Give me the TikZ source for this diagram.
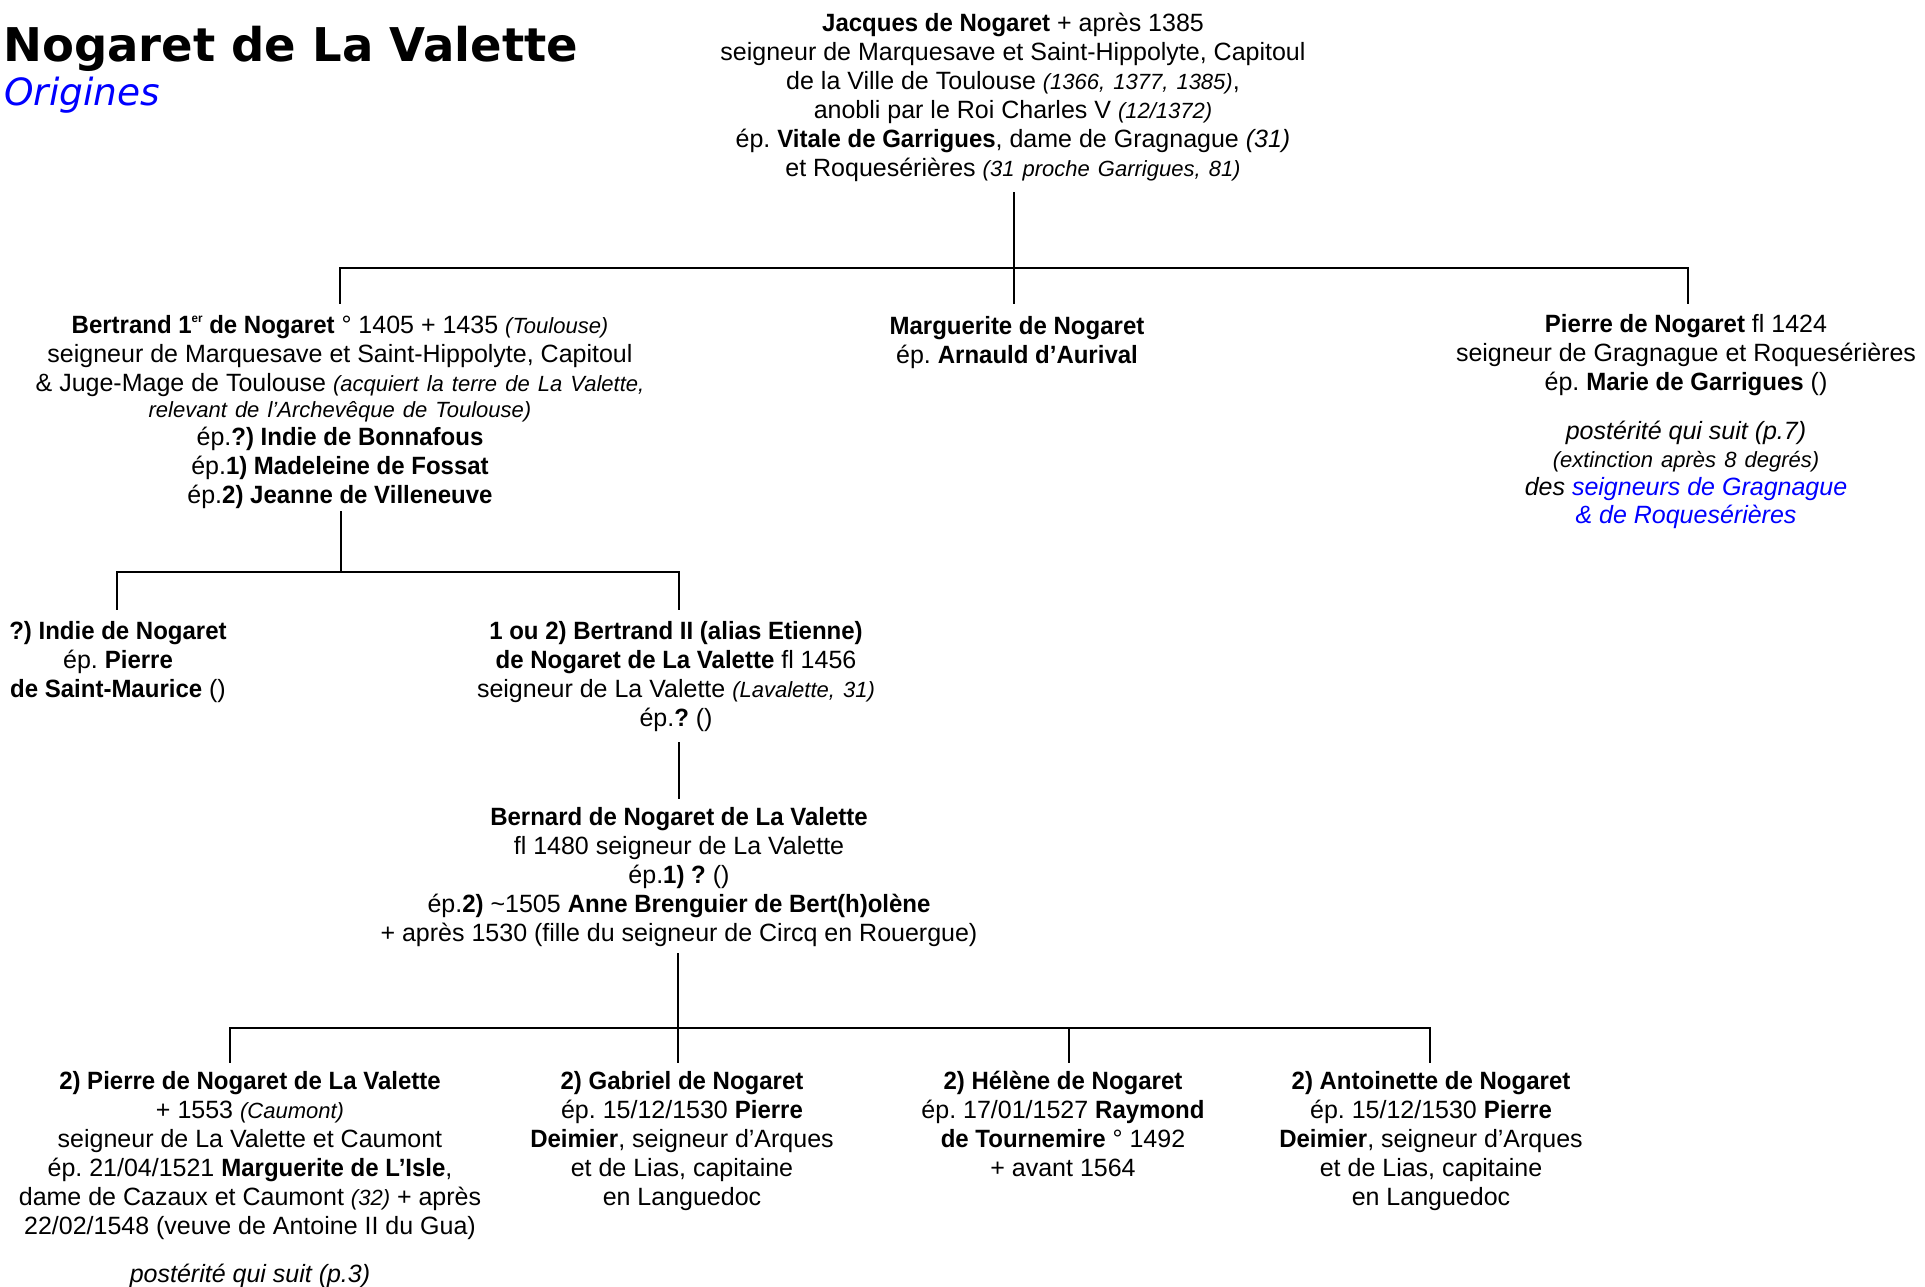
\documentclass[tikz,border=0pt]{standalone}
\usepackage{fontspec}
\setmainfont{Liberation Sans}[BoldFeatures={FakeStretch=0.96}]
\newfontfamily\titlefont{DejaVu Sans}
\newcommand\smit[1]{{\fontsize{22}{26}\selectfont\itshape\spaceskip=0.278em plus 0.1em\relax\advance\spaceskip by 2pt\relax #1}}
\newcommand\sups[1]{\raisebox{0.45em}[0pt][0pt]{\fontsize{12}{12}\selectfont #1}}
\frenchspacing
\begin{document}
\begin{tikzpicture}[x=1pt,y=-1pt]
\tikzset{
  person/.style={align=center, inner sep=0pt, outer sep=0pt, anchor=north,
    font=\fontsize{25}{29}\selectfont, execute at begin node=\strut},
  link/.style={line width=2.4pt, line cap=rect},
}
\useasboundingbox (0,0) rectangle (1925,1286);
\fill[white] (0,0) rectangle (1925,1286);

% title
\node[anchor=base west, inner sep=0pt, font={\fontsize{46.5}{56}\titlefont\bfseries}] (title) at (3,61.5) {Nogaret de La Valette};
\node[anchor=base west, inner sep=0pt, text=blue, font={\fontsize{37.5}{44}\titlefont\itshape}] (sub) at (4,105.6) {Origines};

% generation 1
\node[person] (jacques) at (1013,13.5) {\textbf{Jacques de Nogaret} + après 1385\\
seigneur de Marquesave et Saint-Hippolyte, Capitoul\\
de la Ville de Toulouse \smit{(1366, 1377, 1385)},\\
anobli par le Roi Charles V \smit{(12/1372)}\\
ép. \textbf{Vitale de Garrigues}, dame de Gragnague \textit{(31)}\\
et Roquesérières \smit{(31 proche Garrigues, 81)}};

% generation 2
\node[person] (bertrand) at (340,315.5) {\textbf{Bertrand 1\sups{er} de Nogaret} ° 1405 + 1435 \smit{(Toulouse)}\\
seigneur de Marquesave et Saint-Hippolyte, Capitoul\\
\& Juge-Mage de Toulouse \smit{(acquiert la terre de La Valette,}\\[-3pt]
\smit{relevant de l’Archevêque de Toulouse)}\\[-1pt]
ép.\textbf{?) Indie de Bonnafous}\\
ép.\textbf{1) Madeleine de Fossat}\\
ép.\textbf{2) Jeanne de Villeneuve}};

\node[person] (marguerite) at (1017,316.5) {\textbf{Marguerite de Nogaret}\\
ép. \textbf{Arnauld d’Aurival}};

\node[person] (pierre) at (1686,314.5) {\textbf{Pierre de Nogaret} fl 1424\\
seigneur de Gragnague et Roquesérières\\
ép. \textbf{Marie de Garrigues} ()\\[20pt]
\textit{postérité qui suit (p.7)}\\[-1pt]
\smit{(extinction après 8 degrés)}\\[-1pt]
\textit{des \textcolor{blue}{seigneurs de Gragnague}}\\[-1pt]
\textit{\textcolor{blue}{\& de Roquesérières}}};

% generation 3
\node[person] (indie) at (118,621.5) {\textbf{?) Indie de Nogaret}\\
ép. \textbf{Pierre}\\
\textbf{de Saint-Maurice} ()};

\node[person] (bertrandII) at (676,621.5) {\textbf{1 ou 2) Bertrand II (alias Etienne)}\\
\textbf{de Nogaret de La Valette} fl 1456\\
seigneur de La Valette \smit{(Lavalette, 31)}\\
ép.\textbf{?} ()};

% generation 4
\node[person] (bernard) at (679,807.5) {\textbf{Bernard de Nogaret de La Valette}\\
fl 1480 seigneur de La Valette\\
ép.\textbf{1) ?} ()\\
ép.\textbf{2)} \textasciitilde 1505 \textbf{Anne Brenguier de Bert(h)olène}\\
+ après 1530 (fille du seigneur de Circq en Rouergue)};

% generation 5
\node[person] (pierreLV) at (250,1071.5) {\textbf{2) Pierre de Nogaret de La Valette}\\
+ 1553 \smit{(Caumont)}\\
seigneur de La Valette et Caumont\\
ép. 21/04/1521 \textbf{Marguerite de L’Isle},\\
dame de Cazaux et Caumont \smit{(32)} + après\\
22/02/1548 (veuve de Antoine II du Gua)\\[19pt]
\textit{postérité qui suit (p.3)}};

\node[person] (gabriel) at (682,1071.5) {\textbf{2) Gabriel de Nogaret}\\
ép. 15/12/1530 \textbf{Pierre}\\
\textbf{Deimier}, seigneur d’Arques\\
et de Lias, capitaine\\
en Languedoc};

\node[person] (helene) at (1063,1071.5) {\textbf{2) Hélène de Nogaret}\\
ép. 17/01/1527 \textbf{Raymond}\\
\textbf{de Tournemire} ° 1492\\
+ avant 1564};

\node[person] (antoinette) at (1431,1071.5) {\textbf{2) Antoinette de Nogaret}\\
ép. 15/12/1530 \textbf{Pierre}\\
\textbf{Deimier}, seigneur d’Arques\\
et de Lias, capitaine\\
en Languedoc};

% connector points
\coordinate (jOut) at (1014,193);
\coordinate (jBar) at (1014,268);
\coordinate (jIn) at (1014,303);
\coordinate (bBarL) at (340,268);
\coordinate (bIn) at (340,303);
\coordinate (pBarR) at (1688,268);
\coordinate (pIn) at (1688,303);

\coordinate (bOut) at (341,512);
\coordinate (bBar) at (341,572);
\coordinate (iBar) at (117,572);
\coordinate (iIn) at (117,609);
\coordinate (b2Bar) at (679,572);
\coordinate (b2In) at (679,609);

\coordinate (b2Out) at (679,743);
\coordinate (bnIn) at (679,798);

\coordinate (bnOut) at (678,954);
\coordinate (bnBar) at (678,1028);
\coordinate (gIn) at (678,1062);
\coordinate (plBar) at (230,1028);
\coordinate (plIn) at (230,1062);
\coordinate (hBar) at (1069,1028);
\coordinate (hIn) at (1069,1062);
\coordinate (aBar) at (1430,1028);
\coordinate (aIn) at (1430,1062);

% connectors
\draw[link] (jOut) -- (jIn);
\draw[link] (bIn) -- (bBarL) -- (pBarR) -- (pIn);

\draw[link] (bOut) -- (bBar);
\draw[link] (iIn) -- (iBar) -- (b2Bar) -- (b2In);

\draw[link] (b2Out) -- (bnIn);

\draw[link] (bnOut) -- (gIn);
\draw[link] (plIn) -- (plBar) -- (aBar) -- (aIn);
\draw[link] (hBar) -- (hIn);
\end{tikzpicture}
\end{document}
